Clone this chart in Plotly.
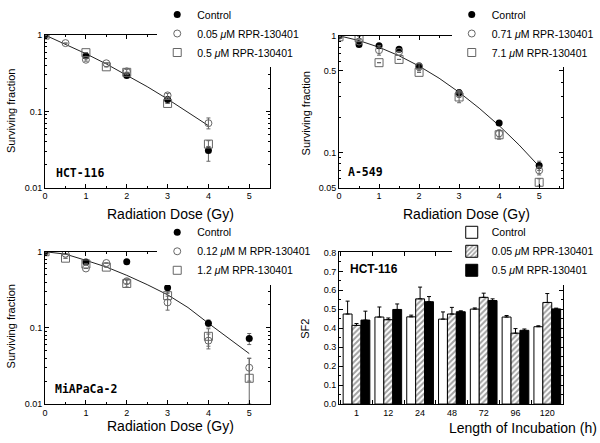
import plotly.graph_objects as go

W, H = 600, 443
def PX(x): return x / W
def PY(y): return 1 - y / H

# ---------------- data ----------------
# HCT-116 survival
hct_ctrl_dose = [0, 1, 2, 3, 4]
hct_ctrl_sf = [1.0, 0.53, 0.296, 0.143, 0.0307]
hct_ctrl_ep = [0, 0, 0, 0, 0.004]
hct_ctrl_em = [0, 0, 0, 0, 0.0085]
hct_lo_dose = [0, 0.5, 1, 1.5, 2, 3, 4]
hct_lo_sf = [1.0, 0.785, 0.475, 0.427, 0.335, 0.162, 0.070]
hct_lo_ep = [0, 0, 0.02, 0, 0.02, 0.01, 0.012]
hct_lo_em = [0, 0, 0.02, 0, 0.02, 0.01, 0.011]
hct_hi_dose = [0, 1, 1.5, 2, 3, 4]
hct_hi_sf = [1.0, 0.588, 0.384, 0.325, 0.127, 0.0373]
hct_hi_ep = [0, 0, 0, 0, 0, 0.004]
hct_hi_em = [0, 0, 0, 0, 0, 0.003]
hct_fit_dose = [0, 0.5, 1, 1.5, 2, 2.5, 3, 3.5, 4]
hct_fit_sf = [1.0, 0.763, 0.570, 0.418, 0.300, 0.211, 0.145, 0.098, 0.065]

# A-549 survival
a_ctrl_dose = [0, 0.5, 1, 1.5, 2, 3, 4, 5]
a_ctrl_sf = [1.0, 0.84, 0.823, 0.767, 0.55, 0.325, 0.179, 0.0773]
a_ctrl_e = [0, 0, 0, 0, 0, 0.02, 0.008, 0.007]
a_lo_dose = [0, 0.5, 1, 1.5, 2, 3, 4, 5]
a_lo_sf = [1.0, 0.893, 0.752, 0.73, 0.542, 0.317, 0.146, 0.0703]
a_lo_e = [0, 0, 0.07, 0, 0.04, 0.02, 0.01, 0.006]
a_hi_dose = [0, 0.5, 1, 1.5, 2, 3, 4, 5]
a_hi_sf = [0.98, 0.963, 0.588, 0.627, 0.486, 0.299, 0.142, 0.0556]
a_hi_e = [0, 0.03, 0, 0, 0, 0.032, 0.012, 0.004]
a_fit_dose = [0, 0.5, 1, 1.5, 2, 2.5, 3, 3.5, 4, 4.5, 5]
a_fit_sf = [1.0, 0.909, 0.797, 0.674, 0.55, 0.433, 0.328, 0.240, 0.170, 0.116, 0.076]

# MiAPaCa-2 survival
m_ctrl_dose = [0, 1, 2, 3, 4, 5]
m_ctrl_sf = [1.0, 0.733, 0.739, 0.337, 0.115, 0.0724]
m_ctrl_e = [0, 0, 0, 0.053, 0.012, 0.012]
m_lo_dose = [0, 0.5, 1, 1.5, 2, 3, 4, 5]
m_lo_sf = [1.0, 0.943, 0.603, 0.711, 0.41, 0.216, 0.068, 0.030]
m_lo_e = [0, 0, 0, 0, 0.03, 0.045, 0.015, 0.01]
m_hi_dose = [0, 0.5, 1, 1.5, 2, 3, 4, 5]
m_hi_sf = [1.0, 0.823, 0.69, 0.628, 0.383, 0.265, 0.0775, 0.0218]
m_hi_ep = [0, 0, 0, 0, 0.039, 0.03, 0.02, 0.018]
m_hi_em = [0, 0, 0, 0, 0.039, 0.03, 0.02, 0.0118]
m_fit_dose = [0, 0.5, 1, 1.5, 2, 2.5, 3, 3.5, 4, 4.5, 5]
m_fit_sf = [1.0, 0.93, 0.77, 0.63, 0.49, 0.37, 0.272, 0.185, 0.115, 0.073, 0.046]

# HCT-116 SF2 vs incubation
incub = ["1", "12", "24", "48", "72", "96", "120"]
sf2_ctrl = [0.475, 0.459, 0.46, 0.448, 0.501, 0.459, 0.408]
sf2_ctrl_e = [0.068, 0.053, 0.009, 0.038, 0.006, 0.008, 0.005]
sf2_lo = [0.415, 0.445, 0.555, 0.475, 0.563, 0.374, 0.536]
sf2_lo_e = [0.01, 0.009, 0.062, 0.035, 0.022, 0.024, 0.047]
sf2_hi = [0.443, 0.499, 0.54, 0.487, 0.546, 0.389, 0.502]
sf2_hi_e = [0.047, 0.029, 0.027, 0.005, 0.009, 0.007, 0.004]

FONT = "Liberation Sans"
GRAY = "#666666"

fig = go.Figure()

def err(p, m=None):
    d = dict(type="data", array=p, color=GRAY, thickness=1, width=2, visible=True)
    if m is not None:
        d.update(symmetric=False, arrayminus=m)
    return d

def survival(xa, ya, leg, fitx, fity, series):
    fig.add_trace(go.Scatter(x=fitx, y=fity, mode="lines", line=dict(color="#222", width=1),
                             xaxis=xa, yaxis=ya, showlegend=False, hoverinfo="skip"))
    for name, dx, sy, ep, em, sym in series:
        if sym == "circle":
            mk = dict(symbol="circle", size=7, color="black")
        elif sym == "circle-open":
            mk = dict(symbol="circle-open", size=7, color=GRAY, line=dict(width=1, color=GRAY))
        else:
            mk = dict(symbol="square-open", size=8, color=GRAY, line=dict(width=1, color=GRAY))
        fig.add_trace(go.Scatter(x=dx, y=sy, mode="markers", marker=mk, name=name,
                                 error_y=err(ep, em), xaxis=xa, yaxis=ya, legend=leg))

survival("x", "y", "legend", hct_fit_dose, hct_fit_sf, [
    ("Control", hct_ctrl_dose, hct_ctrl_sf, hct_ctrl_ep, hct_ctrl_em, "circle"),
    ("0.05 <i>μ</i>M RPR-130401", hct_lo_dose, hct_lo_sf, hct_lo_ep, hct_lo_em, "circle-open"),
    ("0.5 <i>μ</i>M RPR-130401", hct_hi_dose, hct_hi_sf, hct_hi_ep, hct_hi_em, "square-open"),
])
survival("x2", "y2", "legend2", a_fit_dose, a_fit_sf, [
    ("Control", a_ctrl_dose, a_ctrl_sf, a_ctrl_e, None, "circle"),
    ("0.71 <i>μ</i>M RPR-130401", a_lo_dose, a_lo_sf, a_lo_e, None, "circle-open"),
    ("7.1 <i>μ</i>M RPR-130401", a_hi_dose, a_hi_sf, a_hi_e, None, "square-open"),
])
survival("x3", "y3", "legend3", m_fit_dose, m_fit_sf, [
    ("Control", m_ctrl_dose, m_ctrl_sf, m_ctrl_e, None, "circle"),
    ("0.12 <i>μ</i>M M RPR-130401", m_lo_dose, m_lo_sf, m_lo_e, None, "circle-open"),
    ("1.2 <i>μ</i>M RPR-130401", m_hi_dose, m_hi_sf, m_hi_ep, m_hi_em, "square-open"),
])

def bar_err(e):
    return dict(type="data", array=e, symmetric=False, arrayminus=[0] * len(e),
                color="black", thickness=1, width=2)

fig.add_trace(go.Bar(x=incub, y=sf2_ctrl, name="Control", xaxis="x4", yaxis="y4", legend="legend4",
                     marker=dict(color="white", line=dict(color="black", width=1)),
                     error_y=bar_err(sf2_ctrl_e)))
fig.add_trace(go.Bar(x=incub, y=sf2_lo, name="0.05 <i>μ</i>M RPR-130401", xaxis="x4", yaxis="y4",
                     legend="legend4",
                     marker=dict(color="white", line=dict(color="black", width=1),
                                 pattern=dict(shape="/", fgcolor="#444", bgcolor="white",
                                              size=4, solidity=0.5)),
                     error_y=bar_err(sf2_lo_e)))
fig.add_trace(go.Bar(x=incub, y=sf2_hi, name="0.5 <i>μ</i>M RPR-130401", xaxis="x4", yaxis="y4",
                     legend="legend4",
                     marker=dict(color="black", line=dict(color="black", width=1)),
                     error_y=bar_err(sf2_hi_e)))

tickfont = dict(family=FONT, size=9, color="black")
common = dict(showline=True, linecolor="black", linewidth=1, mirror="allticks",
              ticks="inside", ticklen=4, tickcolor="black", showgrid=False, zeroline=False,
              tickfont=tickfont)

def xlin(dom, anchor, rng):
    return dict(common, domain=dom, anchor=anchor, range=rng, dtick=1, tick0=0,
                minor=dict(ticks="inside", ticklen=2, dtick=0.5, tick0=0, tickcolor="black"))

def ylog(dom, anchor, rng, tv, tt):
    return dict(common, domain=dom, anchor=anchor, type="log", range=rng,
                tickvals=tv, ticktext=tt,
                minor=dict(ticks="inside", ticklen=2, dtick="D1", tickcolor="black"))

x1dom = [PX(42.3), PX(268)]
x2dom = [PX(337.7), PX(563)]
y1dom = [PY(182.7), PY(24)]
y3dom = [PY(407.7), PY(249.3)]
y2dom = [PY(182.7), PY(24.7)]
y4dom = [PY(407.7), PY(250)]

legfont = dict(family=FONT, size=10.5, color="black")
def leg(x, y):
    return dict(x=PX(x), y=PY(y), xanchor="left", yanchor="top", bgcolor="white",
                borderwidth=0, font=legfont, tracegroupgap=0, itemwidth=30)

fig.update_layout(
    width=W, height=H, margin=dict(l=0, r=0, t=0, b=0),
    paper_bgcolor="white", plot_bgcolor="white",
    font=dict(family=FONT, color="black"),
    barmode="group", bargap=0.16, bargroupgap=0,
    xaxis=xlin(x1dom, "y", [0, 5.5]),
    yaxis=ylog(y1dom, "x", [-2, 0], [0.01, 0.1, 1], ["0.01", "0.1", "1"]),
    xaxis2=xlin(x2dom, "y2", [0, 5.6]),
    yaxis2=ylog(y2dom, "x2", [-1.30103, 0], [0.05, 0.1, 0.5, 1], ["0.05", "0.1", "0.5", "1"]),
    xaxis3=xlin(x1dom, "y3", [0, 5.5]),
    yaxis3=ylog(y3dom, "x3", [-2, 0], [0.01, 0.1, 1], ["0.01", "0.1", "1"]),
    xaxis4=dict(common, domain=x2dom, anchor="y4", type="category", range=[-0.55, 6.5],
                tickson="boundaries"),
    yaxis4=dict(common, domain=y4dom, anchor="x4", range=[0, 0.8], dtick=0.1, tickformat=".1f",
                minor=dict(ticks="inside", ticklen=2, dtick=0.05, tickcolor="black")),
    legend=leg(155, -13),
    legend2=leg(451, -13),
    legend3=leg(155, 214),
    legend4=leg(451, 214),
)

ann = []
def text(x, y, s, size, angle=0, family=FONT, xanchor="center"):
    ann.append(dict(x=PX(x), y=PY(y), xref="paper", yref="paper", text=s, showarrow=False,
                    textangle=angle, xanchor=xanchor, yanchor="middle",
                    font=dict(family=family, size=size, color="black")))

for (cx, cy) in [(168.5, 210), (466, 210), (168.5, 431)]:
    text(cx, cy, "Radiation Dose (Gy)", 14)
text(523, 433, "Length of Incubation (h)", 14)
text(8, 103, "Surviving fraction", 11, -90)
text(304, 105, "Surviving fraction", 11, -90)
text(8, 327, "Surviving fraction", 11, -90)
text(304, 329, "SF2", 11, -90)
text(51, 167, "<b>HCT-116</b>", 11.5, family="DejaVu Sans Mono", xanchor="left")
text(345, 166, "<b>A-549</b>", 11.5, family="DejaVu Sans Mono", xanchor="left")
text(50, 392, "<b>MiAPaCa-2</b>", 11.5, family="DejaVu Sans Mono", xanchor="left")
text(347, 267, "<b>HCT-116</b>", 12, xanchor="left")
fig.update_layout(annotations=ann)

fig.write_html("out.html", config={"displayModeBar": False},
               post_script="document.body.style.margin='0';")
